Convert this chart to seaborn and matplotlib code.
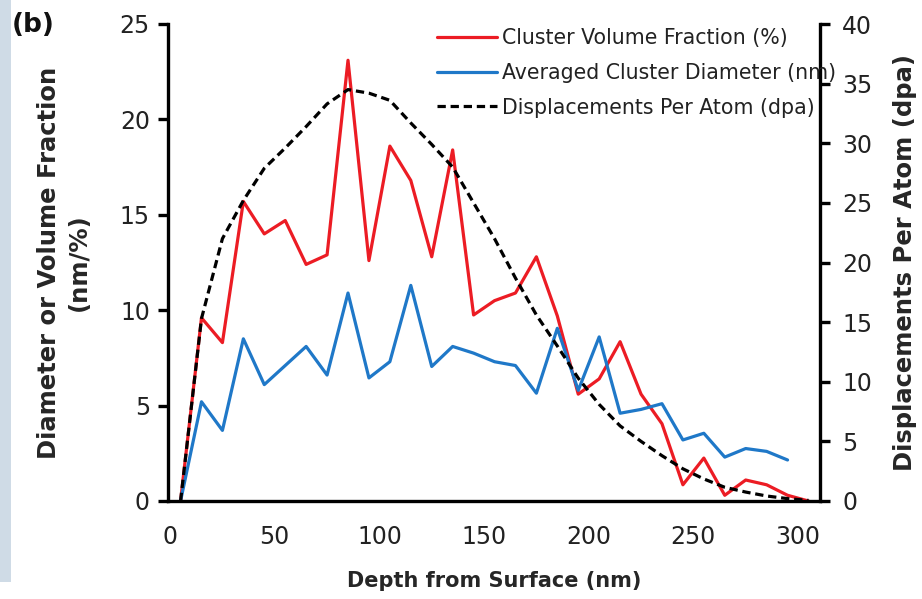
import matplotlib
matplotlib.use("Agg")
import matplotlib.pyplot as plt
import seaborn as sns
import pandas as pd
from matplotlib.patches import Rectangle

# ---- data ----
depth_nm = [5, 15, 25, 35, 45, 55, 65, 75, 85, 95, 105, 115, 125, 135, 145,
            155, 165, 175, 185, 195, 205, 215, 225, 235, 245, 255, 265, 275,
            285, 295, 305]
volume_fraction = [0.0, 9.6, 8.3, 15.7, 14.0, 14.7, 12.4, 12.9, 23.1, 12.6,
                   18.6, 16.8, 12.8, 18.4, 9.75, 10.5, 10.9, 12.8, 9.7, 5.6,
                   6.4, 8.35, 5.6, 4.05, 0.85, 2.25, 0.3, 1.1, 0.85, 0.3, 0.0]
depth_diam = depth_nm[:30]
cluster_diameter = [0.0, 5.2, 3.7, 8.5, 6.1, 7.1, 8.1, 6.6, 10.9, 6.45, 7.3,
                    11.3, 7.05, 8.1, 7.75, 7.3, 7.1, 5.65, 9.05, 5.8, 8.6,
                    4.6, 4.8, 5.1, 3.2, 3.55, 2.3, 2.75, 2.6, 2.15]
dpa = [0.0, 15.3, 22.0, 25.2, 27.9, 29.6, 31.4, 33.3, 34.5, 34.2, 33.6, 31.7,
       29.9, 28.0, 25.0, 22.0, 18.7, 15.6, 13.0, 10.3, 8.1, 6.3, 5.0, 3.8,
       2.7, 1.85, 1.15, 0.75, 0.42, 0.2, 0.05]

x_ticks = [0, 50, 100, 150, 200, 250, 300]
left_ticks = [0, 5, 10, 15, 20, 25]
right_ticks = [0, 5, 10, 15, 20, 25, 30, 35, 40]

labels = ["Cluster Volume Fraction (%)", "Averaged Cluster Diameter (nm)",
          "Displacements Per Atom (dpa)"]

df_vf = pd.DataFrame({"depth": depth_nm, "value": volume_fraction})
df_d = pd.DataFrame({"depth": depth_diam, "value": cluster_diameter})
df_dpa = pd.DataFrame({"depth": depth_nm, "value": dpa})

sns.set_theme(style="white")
plt.rcParams["font.family"] = ["DejaVu Sans"]

RED = "#ec1c24"
BLUE = "#1f78c8"

fig = plt.figure(figsize=(9.22, 5.99), dpi=100)
fig.patch.set_facecolor("white")
ax = fig.add_axes([168 / 922, 1 - 501 / 599, (820 - 168) / 922, (501 - 24) / 599])
ax2 = ax.twinx()

sns.lineplot(data=df_vf, x="depth", y="value", ax=ax, color=RED, lw=2.3,
             label=labels[0], legend=False)
sns.lineplot(data=df_d, x="depth", y="value", ax=ax, color=BLUE, lw=2.3,
             label=labels[1], legend=False)
sns.lineplot(data=df_dpa, x="depth", y="value", ax=ax2, color="black", lw=2.3,
             label=labels[2], legend=False)
ax2.lines[0].set_dashes([2.6, 1.5])

ax.set_xlim(-1, 310.5)
ax.set_ylim(0, 25)
ax2.set_ylim(0, 40)
ax.set_xticks(x_ticks)
ax.set_yticks(left_ticks)
ax2.set_yticks(right_ticks)

for a in (ax, ax2):
    for s in a.spines.values():
        s.set_color("black")
        s.set_linewidth(2.4)
    a.spines["top"].set_visible(False)
    a.tick_params(colors="black", labelcolor="#222222", labelsize=17,
                  width=2.4, length=7, direction="out")
    a.grid(False)
ax.spines["right"].set_visible(False)
ax2.spines["left"].set_visible(False)
ax2.spines["bottom"].set_visible(False)
ax.tick_params(axis="x", pad=10)
ax.tick_params(axis="y", left=True, pad=6)
ax2.tick_params(axis="y", right=True, pad=9)

ax.set_xlabel("Depth from Surface (nm)", fontsize=15, fontweight="bold",
              labelpad=16)
ax.set_ylabel("Diameter or Volume Fraction\n(nm/%)", fontsize=17.5,
              fontweight="bold", labelpad=21, linespacing=1.3)
ax2.set_ylabel("Displacements Per Atom (dpa)", fontsize=17.5,
               fontweight="bold", labelpad=15)

handles = ax.lines[:2] + ax2.lines[:1]
leg = fig.legend(handles, labels, loc="upper left",
                 bbox_to_anchor=(437 / 922, 1 - 28 / 599),
                 frameon=False, fontsize=14.8, handlelength=2.9,
                 handletextpad=0.25, labelspacing=0.72, borderaxespad=0,
                 borderpad=0)
for t in leg.get_texts():
    t.set_color("#222222")

# side strip and panel label
fig.patches.append(Rectangle((0, 1 - 582 / 599), 11 / 922, 582 / 599,
                             transform=fig.transFigure, facecolor="#cfdbe6",
                             edgecolor="none", zorder=0))
fig.text(12 / 922, 1 - 25 / 599, "(b)", fontsize=19, fontweight="bold",
         va="center", ha="left", color="#111111")

fig.savefig("out.png", dpi=100, facecolor="white")
